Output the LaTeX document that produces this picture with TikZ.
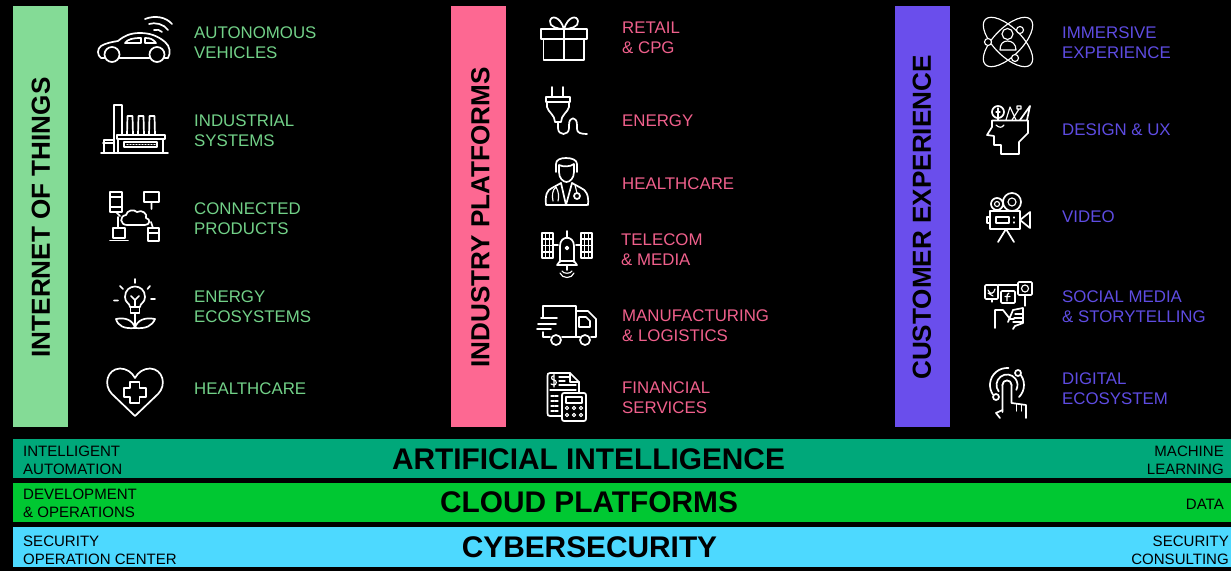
\documentclass[tikz,border=0pt]{standalone}
\usepackage{fontspec}
\setmainfont{Liberation Sans}
\usepackage{tikz}
\definecolor{iotgreen}{HTML}{84DB96}
\definecolor{iottext}{HTML}{72D188}
\definecolor{indpink}{HTML}{FD6892}
\definecolor{indtext}{HTML}{F0608C}
\definecolor{cxpurple}{HTML}{6A4EEC}
\definecolor{cxtext}{HTML}{5E4CE2}
\definecolor{aiband}{HTML}{00A87A}
\definecolor{cloudband}{HTML}{00C832}
\definecolor{cyberband}{HTML}{4DD9FF}
\tikzset{
	pillar/.style={minimum width=55bp,minimum height=421bp,inner sep=0pt},
	pillartitle/.style={inner sep=0pt,rotate=90,text=black,font=\fontsize{26.2}{30}\selectfont\bfseries},
	band/.style={minimum width=1218bp,inner sep=0pt},
	bandtitle/.style={inner sep=0pt,text=black,font=\fontsize{29.95}{34}\selectfont\bfseries},
	item/.style={anchor=west,align=left,inner sep=0pt,font=\fontsize{16.9}{20.4}\selectfont},
	tagl/.style={anchor=west,align=left,inner sep=0pt,text=black,font=\fontsize{15.1}{18}\selectfont},
	tagr/.style={anchor=east,align=right,inner sep=0pt,text=black,font=\fontsize{15.1}{18}\selectfont},
	icon/.style={draw=white,line width=1.7bp,line join=round,line cap=round},
	thinicon/.style={draw=white,line width=1.15bp,line join=round,line cap=round},
}

\begin{document}
\begin{tikzpicture}[x=1bp,y=-1bp]
		\useasboundingbox (0,0) rectangle (1231,571);
		\fill [black] (0,0) rectangle (1231,571);
		%
		\node [pillar,fill=iotgreen] (iot) at (40.5,216.5) {};
		\node [pillar,fill=indpink] (industry) at (478.5,216.5) {};
		\node [pillar,fill=cxpurple] (cx) at (922,216.5) {};
		\node [pillartitle] (iottitle) at (41,217.5) {INTERNET OF THINGS};
		\node [pillartitle] (indtitle) at (480.5,217.5) {INDUSTRY PLATFORMS};
		\node [pillartitle] (cxtitle) at (922,217.5) {CUSTOMER EXPERIENCE};
		%
		\node [band,fill=aiband,minimum height=39bp] (aibar) at (622,458.5) {};
		\node [band,fill=cloudband,minimum height=39bp] (cloudbar) at (622,502.5) {};
		\node [band,fill=cyberband,minimum height=40bp] (cyberbar) at (622,547) {};
		\node [bandtitle] (aititle) at (588.5,459) {ARTIFICIAL INTELLIGENCE};
		\node [bandtitle] (cloudtitle) at (589,502) {CLOUD PLATFORMS};
		\node [bandtitle] (cybertitle) at (589.5,547) {CYBERSECURITY};
		%
		\node [tagl] (aileft) at (23,460) {INTELLIGENT\\AUTOMATION};
		\node [tagr] (airight) at (1224,460) {MACHINE\\LEARNING};
		\node [tagl] (cloudleft) at (23,503) {DEVELOPMENT\\\& OPERATIONS};
		\node [tagr] (cloudright) at (1224,504) {DATA};
		\node [tagl] (cyberleft) at (23,550) {SECURITY\\OPERATION CENTER};
		\node [tagr] (cyberright) at (1229,550) {SECURITY\\CONSULTING};
		%
		\node [item,text=iottext] (vehicles) at (194,43) {AUTONOMOUS\\VEHICLES};
		\node [item,text=iottext] (systems) at (194,131) {INDUSTRIAL\\SYSTEMS};
		\node [item,text=iottext] (products) at (194,219) {CONNECTED\\PRODUCTS};
		\node [item,text=iottext] (ecosystems) at (194,307) {ENERGY\\ECOSYSTEMS};
		\node [item,text=iottext] (iothealth) at (194,389) {HEALTHCARE};
		%
		\node [item,text=indtext] (retail) at (622,38) {RETAIL\\\& CPG};
		\node [item,text=indtext] (energy) at (622,121) {ENERGY};
		\node [item,text=indtext] (indhealth) at (622,184) {HEALTHCARE};
		\node [item,text=indtext] (telecom) at (621,250) {TELECOM\\\& MEDIA};
		\node [item,text=indtext] (manuf) at (622,326) {MANUFACTURING\\\& LOGISTICS};
		\node [item,text=indtext] (finance) at (622,398) {FINANCIAL\\SERVICES};
		%
		\node [item,text=cxtext] (immersive) at (1062,43) {IMMERSIVE\\EXPERIENCE};
		\node [item,text=cxtext] (design) at (1062,130) {DESIGN \& UX};
		\node [item,text=cxtext] (video) at (1062,217) {VIDEO};
		\node [item,text=cxtext] (social) at (1062,307) {SOCIAL MEDIA\\\& STORYTELLING};
		\node [item,text=cxtext] (digital) at (1062,389) {DIGITAL\\ECOSYSTEM};
		%
		% car
		\draw [icon] (104.5,58) -- (101,58) .. controls (97,55) and (97,49) .. (101,46) .. controls (106,43) and (112,42) .. (118,41) .. controls (124,36) and (130,33) .. (140,33) .. controls (150,33) and (158,36) .. (165,42) .. controls (170,46) and (171,53) .. (168,58) -- (164.5,58);
		\draw [icon] (119.5,58) -- (149.5,58);
		\draw [icon] (112,54.5) circle (7.5) (157,54.5) circle (7.5);
		\draw [icon] (125,43) .. controls (128,39) and (133,38) .. (141,38) -- (141,43) -- cycle;
		\draw [icon] (145,38) .. controls (150,38) and (153,39) .. (156,43) -- (145,43) -- cycle;
		\draw [icon] (145,19) .. controls (155,15) and (166,17) .. (172,24);
		\draw [icon] (149,24) .. controls (155,22) and (164,24) .. (168,30);
		\draw [icon] (154,30) .. controls (157,29) and (160,30) .. (162,32);
		% factory
		\draw [icon] (101,153) -- (168,153);
		\draw [icon] (114,153) -- (114,105) -- (122,105) -- (122,135);
		\draw [icon] (127,135) -- (127.5,116) -- (132.5,116) -- (133,135) (138,135) -- (138.5,116) -- (143.5,116) -- (144,135) (149,135) -- (149.5,116) -- (154.5,116) -- (155,135);
		\draw [icon] (117,135) -- (165,135) -- (165,139) -- (117,139) -- cycle;
		\draw [icon] (118,139) -- (118,153) (163,139) -- (163,153);
		\draw [thinicon] (124,142) rectangle (157,147);
		\draw [thinicon,dash pattern=on 1bp off 2bp] (127,144.5) -- (155,144.5);
		\draw [icon] (104,153) -- (104,140) -- (114,140) (103,143) -- (114,143);
		% connected devices
		\draw [icon] (110,192) rectangle (122,212);
		\draw [thinicon] (110,197) -- (122,197) (110,207) -- (122,207);
		\draw [icon] (144,192) rectangle (159,202);
		\draw [icon] (151.5,202) -- (151.5,209) (116,212) -- (120,216) (118,217) -- (118,228) (151,222) -- (153,228);
		\draw [icon] (127,225) .. controls (120,225) and (119,216) .. (126,215) .. controls (127,210) and (134,209) .. (137,212) .. controls (142,209) and (148,214) .. (146,218) .. controls (151,219) and (150,225) .. (145,225) -- cycle;
		\draw [icon] (113,228) rectangle (125,238);
		\draw [icon] (110,240.5) -- (128,240.5);
		\draw [icon] (148,228) rectangle (159,241);
		\draw [thinicon] (148,233) -- (159,233);
		% bulb and leaves
		\draw [icon] (130,307) .. controls (130,303) and (125,303) .. (125,297) .. controls (125,283) and (145,283) .. (145,297) .. controls (145,303) and (140,303) .. (140,307) -- cycle;
		\draw [icon] (130.5,307) rectangle (139.5,313);
		\draw [icon] (135,313) -- (135,328) (135,300) -- (135,307) (135,300) -- (131,296) (135,300) -- (139,296);
		\draw [icon] (135,328) .. controls (124,329) and (118,326) .. (116,319) .. controls (125,317) and (133,320) .. (135,328) .. controls (137,320) and (145,317) .. (155,319) .. controls (152,326) and (146,329) .. (135,328);
		\draw [icon] (135,279) -- (135,283) (120,286) -- (123,289) (150,286) -- (147.5,289) (114,300.5) -- (118,300.5) (151,299) -- (155,299);
		% heart
		\draw [icon] (135,416) -- (112,394) .. controls (103,385) and (107,369) .. (120,368.5) .. controls (126,368.5) and (132,372) .. (135,378) .. controls (138,372) and (144,368.5) .. (150,368.5) .. controls (163,369) and (167,385) .. (158,394) -- cycle;
		\draw [icon] (130,382) -- (139.5,382) -- (139.5,388) -- (146,388) -- (146,397) -- (139.5,397) -- (139.5,403) -- (130,403) -- (130,397) -- (124,397) -- (124,388) -- (130,388) -- cycle;
		% gift
		\draw [icon] (541,29) rectangle (587,39);
		\draw [icon] (543.5,39) -- (543.5,60) -- (584,60) -- (584,39);
		\draw [icon] (564,29) -- (564,60);
		\draw [icon] (564,29) .. controls (558,29) and (549,27) .. (550,21) .. controls (551,15) and (560,16) .. (564,29) .. controls (568,16) and (577,15) .. (578,21) .. controls (579,27) and (570,29) .. (564,29);
		% plug
		\draw [icon] (552,87) -- (552,97) (563,87) -- (563,97);
		\draw [icon] (546,97) rectangle (570,102);
		\draw [icon] (547,102) -- (547,107) .. controls (548,112) and (555,115) .. (555,122) -- (561,122) .. controls (561,115) and (568,112) .. (569,107) -- (569,102);
		\draw [icon] (558,122) -- (558,128) .. controls (558,136) and (569,136) .. (569,128) -- (569,125) .. controls (569,116) and (577,116) .. (577,125) -- (577,129) .. controls (577,133) and (581,134) .. (587,134);
		% doctor
		\draw [icon] (556,172) -- (556,164) .. controls (556,160) and (560,158) .. (566,158) .. controls (572,158) and (577,160) .. (577,164) -- (577,172);
		\draw [icon] (559,172) -- (559,165) .. controls (563,167) and (570,167) .. (574,164) -- (574,172) .. controls (574,178) and (570,182) .. (566.5,182) .. controls (563,182) and (559,178) .. (559,172);
		\draw [icon] (546,205) -- (587,205) (546,205) .. controls (545,195) and (547,190) .. (552,188) -- (561,183) -- (566,205) -- (572,183) -- (581,188) .. controls (586,190) and (589,195) .. (588,205);
		\draw [icon] (577,196) circle (3);
		\draw [thinicon] (577,193) -- (575,185) (556,187) .. controls (552,190) and (552,196) .. (553,201) (556,187) .. controls (559,192) and (559,197) .. (558,201);
		% satellite
		\draw [icon] (542,233) rectangle (553,258) (581,233) rectangle (592,258);
		\draw [thinicon] (545.7,233) -- (545.7,258) (549.3,233) -- (549.3,258) (584.7,233) -- (584.7,258) (588.3,233) -- (588.3,258);
		\draw [thinicon] (542,239) -- (553,239) (542,245.5) -- (553,245.5) (542,252) -- (553,252) (581,239) -- (592,239) (581,245.5) -- (592,245.5) (581,252) -- (592,252);
		\draw [icon] (553,245) -- (558,245) (576,245) -- (581,245);
		\draw [icon] (560,262) -- (560,246) .. controls (560,235) and (574,235) .. (574,246) -- (574,262);
		\draw [icon] (557,265) -- (577,265) -- (574,261) -- (560,261) -- cycle;
		\draw [icon] (567,231) -- (567,238) (567,265) -- (567,270);
		\draw [icon] (567,248) circle (1.5);
		\draw [thinicon] (562,271) .. controls (563,274) and (571,274) .. (572,271) (560,273) .. controls (562,279) and (572,279) .. (574,273);
		% truck
		\draw [icon] (543,317) -- (543,306) -- (576,306) -- (576,337) -- (562,337);
		\draw [icon] (576,311) -- (588,311) -- (596,319) -- (596,337) -- (591,337) (580,337) -- (576,337) (550,337) -- (543,337) -- (543,332);
		\draw [icon] (579,317) -- (586,317) -- (590,321) -- (590,327) -- (579,327) -- cycle;
		\draw [icon] (556,340) circle (5) (585,340) circle (5);
		\draw [icon] (541,318) -- (557,318) (538,324) -- (556,324) (537,329) -- (551,329);
		% invoice and calculator
		\draw [icon] (562,416) -- (550,416) .. controls (548,416) and (547.5,415) .. (547.5,413) -- (547.5,376) .. controls (547.5,374) and (548,373) .. (550,373) -- (570,373) -- (579,382) -- (579,393);
		\draw [icon] (570,373) -- (570,382) -- (579,382);
		\draw [thinicon] (553,376) .. controls (551,376) and (551,380) .. (554,380) .. controls (557,380) and (557,385) .. (554,385) -- (551,384) (554,374.5) -- (554,387);
		\draw [thinicon] (559,377) -- (569,377) (559,381) -- (565,381) (559,385) -- (576,385) (550,390) -- (576,390);
		\draw [thinicon,dash pattern=on 3bp off 1bp] (551,396) -- (559,396) (551,401) -- (559,401) (551,406) -- (559,406) (551,411) -- (559,411);
		\draw [icon,rounded corners=2bp] (562,393) rectangle (586,421);
		\draw [thinicon] (566,397) rectangle (582,403);
		\draw [thinicon] (567,408) circle (1.6) (574,408) circle (1.6) (581,408) circle (1.6) (567,415) circle (1.6) (574,415) circle (1.6) (581,415) circle (1.6);
		% orbits and person
		\draw [thinicon,rotate around={45:(1008,42)}] (1008,42) ellipse (32 and 14);
		\draw [thinicon,rotate around={-45:(1008,42)}] (1008,42) ellipse (32 and 14);
		\draw [thinicon,fill=black] (1020,30) circle (3.5) (988,42) circle (3.5) (1015,58) circle (3.5);
		\draw [thinicon,fill=black] (1000,50) .. controls (1000,44) and (1003,41) .. (1007.5,41) .. controls (1012,41) and (1016,44) .. (1016,50) -- cycle;
		\draw [thinicon,fill=black] (1007.5,34) circle (5.5);
		% head with tools
		\draw [icon] (992,120.5) -- (1028,120.5) -- (1028,133) -- (1019,142) -- (1019,154) -- (1001,154) -- (1001,145) -- (994,145) -- (994,136) -- (987,135) -- (992,127) -- cycle;
		\draw [icon] (998,112) circle (6);
		\draw [thinicon] (998,108) -- (998,120) (996,112) -- (1000,112);
		\draw [thinicon] (1006,120) -- (1010,107) -- (1016,120) (1012,120) -- (1019,109) (1017,106) rectangle (1021,109);
		\draw [icon] (1020,120) -- (1030,106) -- (1027,120);
		\draw [thinicon] (996,125) .. controls (999,128) and (1002,128) .. (1004,125);
		% camera
		\draw [icon] (997,204) circle (6) (1012,202) circle (9);
		\draw [thinicon] (997,204) circle (2.5) (1012,202) circle (4);
		\draw [icon] (990,211) rectangle (1020,229);
		\draw [icon] (1020,220) -- (1030,212) -- (1030,228) -- cycle;
		\draw [icon] (987,217) rectangle (990,223);
		\draw [icon] (996,217) rectangle (1009,223);
		\draw [thinicon] (1014,217) -- (1014,218) (1014,222) -- (1014,223);
		\draw [icon] (1006,229) -- (998,242) (1006,229) -- (1014,242);
		% social media hand
		\draw [icon,rounded corners=1bp] (985,285) rectangle (998,299);
		\draw [icon,rounded corners=1bp] (1001,291) rectangle (1015,303);
		\draw [icon,rounded corners=1bp] (1018,282) rectangle (1032,295);
		\draw [thinicon] (1025,288.5) circle (3.5);
		\draw [thinicon] (988,290) .. controls (990,295) and (994,294) .. (995,289) (988,293) -- (993,296);
		\draw [thinicon] (1009,293) .. controls (1007,293) and (1007,295) .. (1007,301) (1005,296.5) -- (1010,296.5);
		\draw [thinicon] (998,285) -- (1018,285) (992,299) -- (992,302) (1025,295) -- (1025,306);
		\draw [icon] (995,328) -- (995,310) -- (1003,310) -- (1010,319) -- (1014,319) (1008,322) -- (1013,310) -- (1023,308) -- (1023,323) -- (1015,326) -- (1013,329);
		\draw [thinicon] (1015,314) -- (1023,314) (1014,318) -- (1023,318) (1013,322) -- (1023,322);
		% touch target
		\draw [icon] (1007,385) circle (4.5);
		\draw [icon] (1007,385) ++(-218:10.5) arc (-218:28:10.5);
		\draw [icon] (1007,385) ++(-85:17) arc (-85:-215:17);
		\draw [icon] (1007,385) ++(-45:17) arc (-45:45:17);
		\draw [icon,fill=black] (1018,373) circle (3) (996,397) circle (3);
		\draw [icon,fill=black] (1002.5,412) -- (1002.5,385) .. controls (1002.5,379) and (1011.5,379) .. (1011.5,385) -- (1011.5,403) -- (1026,405) -- (1026,418);
		\draw [thinicon] (1016.5,404) -- (1016.5,411) (1021.5,405) -- (1021.5,411);
		\draw [icon] (1002.5,410) -- (996,413) -- (1000,418);
\end{tikzpicture}
\end{document}
